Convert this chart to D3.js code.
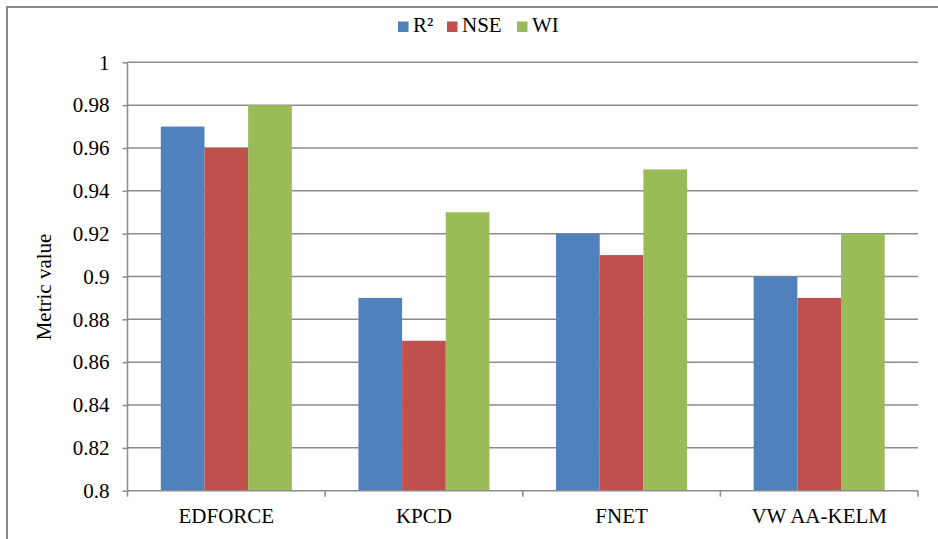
<!DOCTYPE html>
<html><head><meta charset="utf-8">
<script src="https://cdn.jsdelivr.net/npm/d3@7"></script>
<style>body{margin:0;background:#fff}svg{display:block}svg text{font-family:"Liberation Serif","Times New Roman",serif !important;fill:#000}</style>
</head><body>
<svg id="c" width="938" height="539"></svg>
<script>
const categories = ["EDFORCE","KPCD","FNET","VW AA-KELM"];
const seriesNames = ["R²","NSE","WI"];
const r2 = [0.97, 0.89, 0.92, 0.90];
const nse = [0.96, 0.87, 0.91, 0.89];
const wi = [0.98, 0.93, 0.95, 0.92];
const yTicks = [0.8,0.82,0.84,0.86,0.88,0.9,0.92,0.94,0.96,0.98,1];
const yTickLabels = ["0.8","0.82","0.84","0.86","0.88","0.9","0.92","0.94","0.96","0.98","1"];
const colors = ["#4F81BD","#C0504D","#9BBB59"];
const seriesVals = [r2, nse, wi];
const FS = "21px";

const svg = d3.select("#c");
svg.append("rect").attr("x",7).attr("y",7).attr("width",1000).attr("height",1000)
  .attr("fill","none").attr("stroke","#888").attr("stroke-width",2);

const L=127.5, R=918, T=62.3, B=490.7;
const x0 = d3.scaleBand().domain(categories).range([L,R]).padding(0);
const y = d3.scaleLinear().domain([0.8,1]).range([B,T]);

svg.append("g").selectAll("line").data(yTicks.slice(1)).join("line")
  .attr("x1",L).attr("x2",R).attr("y1",d=>y(d)).attr("y2",d=>y(d))
  .attr("stroke","#8c8c8c").attr("stroke-width",1.5);

const data=[];
categories.forEach((c,i)=>seriesNames.forEach((s,j)=>data.push({c,s,v:seriesVals[j][i],j})));
const bw = x0.bandwidth()*0.221;
const off = (x0.bandwidth()-3*bw)/2;
svg.append("g").selectAll("rect").data(data).join("rect")
  .attr("x",d=>x0(d.c)+off+d.j*bw).attr("width",bw)
  .attr("y",d=>y(d.v)).attr("height",d=>y(0.8)-y(d.v))
  .attr("fill",d=>colors[d.j]);

const ya = svg.append("g").attr("transform",`translate(${L},0)`)
  .call(d3.axisLeft(y).tickValues(yTicks).tickFormat((d,i)=>yTickLabels[i]).tickSize(5).tickPadding(13));
ya.attr("font-family",null).attr("font-size",null);
ya.select(".domain").attr("stroke","#8c8c8c").attr("stroke-width",1.5).attr("d",`M0,${T}V${B}`);
ya.selectAll(".tick line").attr("stroke","#8c8c8c").attr("stroke-width",1.5);
ya.selectAll(".tick text").style("font-size",FS).attr("fill","#000");

const xa = svg.append("g").attr("transform",`translate(0,${B})`)
  .call(d3.axisBottom(x0).tickSize(0).tickPadding(14));
xa.attr("font-family",null).attr("font-size",null);
xa.select(".domain").attr("stroke","#8c8c8c").attr("stroke-width",1.5).attr("d",`M${L},0H${R}`);
xa.selectAll(".tick text").attr("dy",null).attr("y",32).style("font-size",FS).attr("fill","#000");
const bounds = categories.map(c=>x0(c)).concat([R]);
svg.append("g").selectAll("line").data(bounds).join("line")
  .attr("x1",d=>d).attr("x2",d=>d).attr("y1",B).attr("y2",B+6)
  .attr("stroke","#8c8c8c").attr("stroke-width",1.5);

svg.append("text").attr("transform","translate(51,287) rotate(-90)")
  .attr("text-anchor","middle").style("font-size",FS).text("Metric value");

const legX=[398,447,517];
const lg = svg.append("g");
seriesNames.forEach((s,j)=>{
  lg.append("rect").attr("x",legX[j]).attr("y",21.5).attr("width",10.5).attr("height",10.5).attr("fill",colors[j]);
  lg.append("text").attr("x",legX[j]+15).attr("y",32).style("font-size",FS).text(s);
});
</script>
</body></html>
